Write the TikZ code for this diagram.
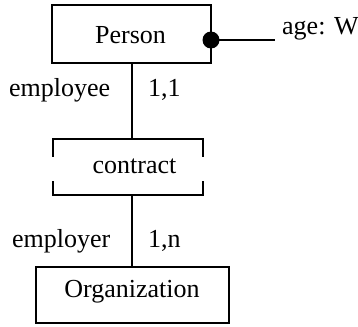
\documentclass[tikz,border=0pt]{standalone}
\usepackage{fontspec}
\setmainfont{Liberation Serif}
\begin{document}
\begin{tikzpicture}[x=1pt,y=-1pt,
  every node/.style={font=\fontsize{26}{30}\selectfont},
  line/.style={line width=2pt},
  entity/.style={draw, line width=2pt, inner sep=0pt},
  txt/.style={inner sep=0pt}]
\useasboundingbox (0,0) rectangle (358,326);
% Person
\node[entity, minimum width=159pt, minimum height=58pt] (person) at (131.5,34) {};
\node[txt, anchor=base] (persontext) at (130.5,44) {Person};
% attribute
\coordinate (attrend) at (275,40);
\fill (211,40) circle (8.5pt) coordinate (dot);
\node[txt, anchor=base west] (age) at (282,35) {age: W};
\draw[line] (dot) -- (attrend);
% contract relationship (bracket shape)
\node[txt, minimum width=150pt, minimum height=56pt] (contract) at (128,167) {};
\node[txt] (contracttext) at (134.5,166) {contract};
\draw[line] ([yshift=-18pt]contract.north west) -- (contract.north west) -- (contract.north east) -- ([yshift=-18pt]contract.north east);
\draw[line] ([yshift=14pt]contract.south west) -- (contract.south west) -- (contract.south east) -- ([yshift=14pt]contract.south east);
% Organization
\node[entity, minimum width=193pt, minimum height=56pt] (org) at (132,295) {};
\node[txt, anchor=base] (orgtext) at (132,297) {Organization};
% connectors
\draw[line] (person.south -| 132,0) -- (contract.north -| 132,0);
\draw[line] (contract.south -| 132,0) -- (org.north -| 132,0);
% role labels
\node[txt, anchor=base west] (employee) at (9,96) {employee};
\node[txt, anchor=base west] (c11) at (148,96) {1,1};
\node[txt, anchor=base west] (employer) at (12,247) {employer};
\node[txt, anchor=base west] (c1n) at (148,247) {1,n};
\end{tikzpicture}
\end{document}
